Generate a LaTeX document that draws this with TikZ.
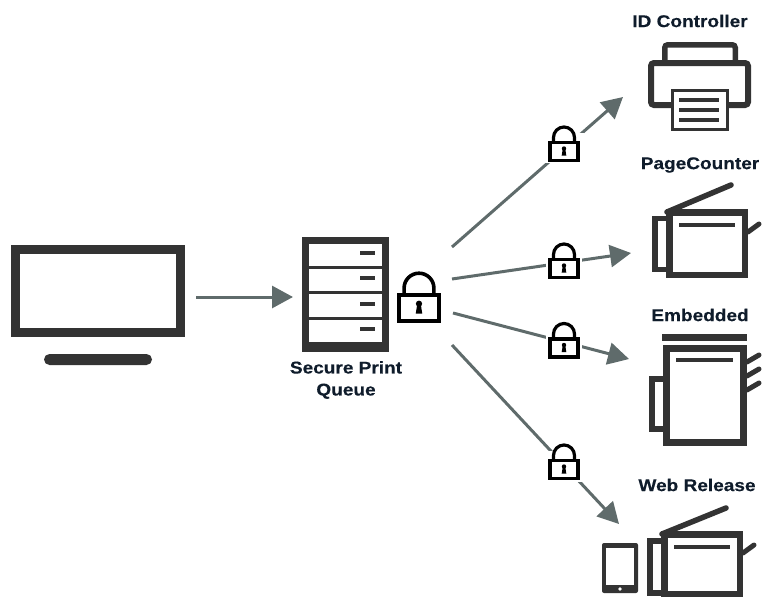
\documentclass[tikz,border=0pt]{standalone}
\usepackage{fontspec}
\setmainfont{Liberation Sans}
\newfontfamily\lblfont[FakeStretch=1.12,FakeBold=0.25]{Liberation Sans Bold}
\usetikzlibrary{arrows.meta}
\definecolor{icon}{HTML}{333333}
\definecolor{conn}{HTML}{5F6B6B}
\definecolor{labelc}{HTML}{0F1C2B}
\tikzset{
  lbl/.style={text=labelc,font=\lblfont\fontsize{17}{22}\selectfont,align=center,inner sep=0pt},
  conn/.style={draw=conn,line width=3pt,-{Triangle[length=21pt,width=22pt]}},
  ink/.style={draw=icon,fill=none,line join=miter},
  lid/.style={draw=icon,line width=5.5pt,line cap=round},
  tail/.style={draw=icon,line width=5pt,line cap=round},
  lockbg/.style={fill=white,draw=none,minimum width=36pt,minimum height=40pt,inner sep=0pt},
  lockbgd/.style={fill=white,draw=none,minimum width=40pt,minimum height=30.5pt,inner sep=0pt},
}
\newcommand{\padlock}[4]{% x, y, scale, line width
  \begin{scope}[shift={(#1,#2)},scale=#3]
    \draw[black,line width=#4] (-14,-9) rectangle (14,9);
    \draw[black,line width=#4] (-10.5,-9) -- (-10.5,-14) arc[start angle=180,end angle=360,radius=10.5] -- (10.5,-9);
    \fill[black] (0,-3) circle[radius=2.2];
    \fill[black] (-1.2,-3) -- (1.2,-3) -- (2.3,4) -- (-2.3,4) -- cycle;
  \end{scope}
}
\begin{document}
\begin{tikzpicture}[x=1pt,y=-1pt]
\useasboundingbox (0,0) rectangle (763,597);

% Monitor
\draw[draw=icon,line width=9pt] (15.5,249.5) rectangle (180.5,332.5);
\node[fill=icon,rounded corners=5.5pt,minimum width=108pt,minimum height=11pt,inner sep=0pt] (stand) at (98,359.5) {};
\coordinate (pcout) at (196,297);

% Server
\node[fill=icon,minimum width=87pt,minimum height=115pt,inner sep=0pt] (server) at (345.5,294.5) {};
\foreach \t/\b/\m in {244/266/253,269/291/278,294/317/304,320/342/329}{
  \fill[white] (309,\t) rectangle (382,\b);
  \fill[icon] (360,\m-2) rectangle (375,\m+2);
}
\coordinate (srvin) at (293,297);
\node[lbl] (queue) at (346,380) {Secure Print\\Queue};
\padlock{419}{308}{1.42}{3.6pt}

% Connector ends
\coordinate (a1) at (452,247); \coordinate (b1) at (623,97);
\coordinate (a2) at (452,279); \coordinate (b2) at (631,253);
\coordinate (a3) at (453,313); \coordinate (b3) at (629,359);
\coordinate (a4) at (452,345); \coordinate (b4) at (619,524);

\draw[conn] (pcout) -- (srvin);
\draw[conn] (a1) -- (b1);
\draw[conn] (a2) -- (b2);
\draw[conn] (a3) -- (b3);
\draw[conn] (a4) -- (b4);

% Small locks
\node[lockbgd] (lock1) at (564,148) {};
\node[lockbg] (lock2) at (564,262) {};
\node[lockbg] (lock3) at (564,341) {};
\node[lockbgd] (lock4) at (564,466.5) {};
\padlock{564}{151.5}{1}{3.2pt}
\padlock{564}{268.5}{1}{3.2pt}
\padlock{564}{348}{1}{3.2pt}
\padlock{564}{469.5}{1}{3.2pt}

% ID Controller printer
\node[lbl] (idc) at (690,21) {ID Controller};
\draw[ink,line width=5.5pt,rounded corners=3pt] (664.75,60) -- (664.75,44.75) -- (735.25,44.75) -- (735.25,60);
\draw[ink,line width=6pt,rounded corners=3pt] (671,105) -- (651,105) -- (651,63) -- (748,63) -- (748,105) -- (729,105);
\draw[ink,fill=white,line width=3pt] (672.5,90.5) rectangle (727.5,129.5);
\foreach \y in {100,110,120}{\draw[draw=icon,line width=3.5pt] (679,\y) -- (719,\y);}

% PageCounter copier
\node[lbl] (pgc) at (700,165) {PageCounter};
\draw[lid] (667,212) -- (731,185);
\draw[tail] (748,232) -- (759,224);
\draw[ink,line width=5.5pt] (666,218.5) -- (654.75,218.5) -- (654.75,269.5) -- (666,269.5);
\draw[ink,fill=white,line width=6.5pt] (669.25,212.25) rectangle (744.75,274.75);
\draw[draw=icon,line width=4pt] (679,225) -- (735,225);

% Embedded copier
\node[lbl] (emb) at (700,315) {Embedded};
\fill[icon] (662,334) rectangle (747,341);
\foreach \y in {0,14,28}{\draw[tail] (747,362+\y) -- (759,355+\y);}
\draw[ink,line width=6pt] (663,379) -- (652,379) -- (652,429) -- (663,429);
\draw[ink,fill=white,line width=7pt] (666.5,348.5) rectangle (743.5,442.5);
\draw[draw=icon,line width=4pt] (676,360) -- (733,360);

% Web Release copier and tablet
\node[lbl] (web) at (697,485) {Web Release};
\draw[lid] (662,534) -- (726,508);
\draw[tail] (743,553) -- (754,545);
\draw[ink,line width=6pt] (661,541) -- (650,541) -- (650,593) -- (661,593);
\draw[ink,fill=white,line width=6.5pt] (664.25,534.25) rectangle (739.75,593.75);
\draw[draw=icon,line width=4pt] (674,547) -- (730,547);
\fill[icon,rounded corners=2pt] (602,543) rectangle (638,593);
\fill[white] (606,548) rectangle (634,585);
\fill[white] (620,589) circle[radius=1.8];
\end{tikzpicture}
\end{document}
